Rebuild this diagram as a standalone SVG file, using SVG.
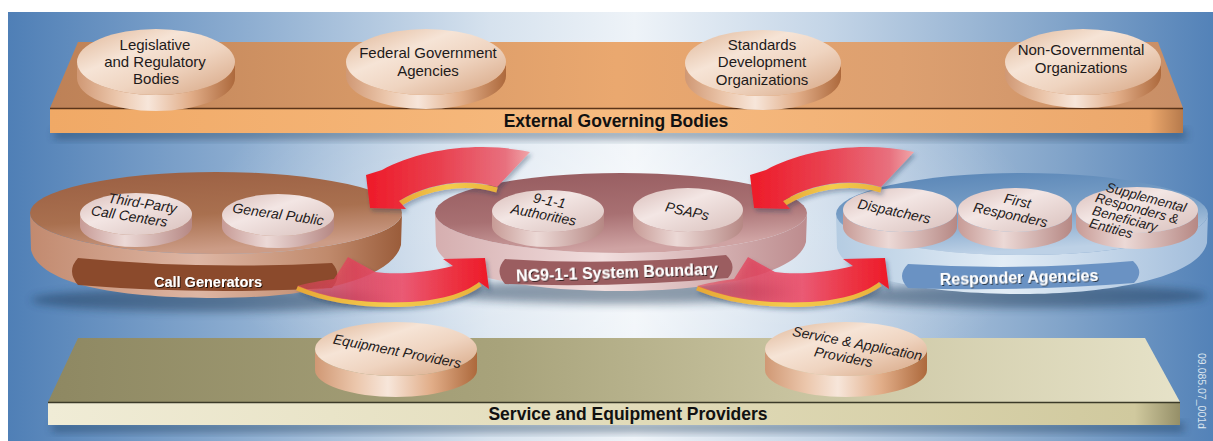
<svg xmlns="http://www.w3.org/2000/svg" width="1213" height="441" viewBox="0 0 1213 441">
  <defs>
    <!-- backdrop -->
    <linearGradient id="bg" x1="0" y1="0" x2="1" y2="0">
      <stop offset="0" stop-color="#4f7fb6"/>
      <stop offset="0.2" stop-color="#8eaed1"/>
      <stop offset="0.4" stop-color="#d6e2ee"/>
      <stop offset="0.52" stop-color="#eef3f8"/>
      <stop offset="0.68" stop-color="#c4d5e7"/>
      <stop offset="0.87" stop-color="#83a5ca"/>
      <stop offset="1" stop-color="#5382b8"/>
    </linearGradient>
    <radialGradient id="glow" cx="0.5" cy="0.5" r="0.5">
      <stop offset="0" stop-color="#ffffff" stop-opacity="0.55"/>
      <stop offset="1" stop-color="#ffffff" stop-opacity="0"/>
    </radialGradient>

    <!-- platforms -->
    <linearGradient id="topFace" x1="0" y1="0" x2="1" y2="0">
      <stop offset="0" stop-color="#bd8157"/>
      <stop offset="0.3" stop-color="#d89a68"/>
      <stop offset="0.5" stop-color="#eaa86f"/>
      <stop offset="0.75" stop-color="#dda070"/>
      <stop offset="1" stop-color="#c88e66"/>
    </linearGradient>
    <linearGradient id="topFront" x1="0" y1="0" x2="1" y2="0">
      <stop offset="0" stop-color="#f0a966"/>
      <stop offset="0.5" stop-color="#f7bb80"/>
      <stop offset="0.97" stop-color="#eca86c"/>
      <stop offset="1" stop-color="#b67a4c"/>
    </linearGradient>
    <linearGradient id="botFace" x1="0" y1="0" x2="1" y2="0">
      <stop offset="0" stop-color="#8e8862"/>
      <stop offset="0.4" stop-color="#a8a37b"/>
      <stop offset="0.7" stop-color="#cdc8a5"/>
      <stop offset="1" stop-color="#e6e2c8"/>
    </linearGradient>
    <linearGradient id="botFront" x1="0" y1="0" x2="1" y2="0">
      <stop offset="0" stop-color="#f0ecd6"/>
      <stop offset="0.5" stop-color="#e2dcba"/>
      <stop offset="0.96" stop-color="#d0c99e"/>
      <stop offset="1" stop-color="#958f68"/>
    </linearGradient>

    <!-- peach cylinders -->
    <linearGradient id="peachTop" x1="0" y1="0" x2="1" y2="1">
      <stop offset="0" stop-color="#dfb596"/>
      <stop offset="0.35" stop-color="#f6e4d6"/>
      <stop offset="0.6" stop-color="#efd4c0"/>
      <stop offset="1" stop-color="#d6a481"/>
    </linearGradient>
    <linearGradient id="peachSide" x1="0" y1="0" x2="1" y2="0">
      <stop offset="0" stop-color="#d09874"/>
      <stop offset="0.25" stop-color="#ebc6ab"/>
      <stop offset="0.45" stop-color="#f7e6da"/>
      <stop offset="0.72" stop-color="#e1ad88"/>
      <stop offset="1" stop-color="#ad693c"/>
    </linearGradient>
    <!-- pink cylinders -->
    <linearGradient id="pinkTop" x1="0" y1="0" x2="1" y2="1">
      <stop offset="0" stop-color="#d9bdb9"/>
      <stop offset="0.4" stop-color="#f3e6e4"/>
      <stop offset="1" stop-color="#d9c0bc"/>
    </linearGradient>
    <linearGradient id="pinkSide" x1="0" y1="0" x2="1" y2="0">
      <stop offset="0" stop-color="#c79b96"/>
      <stop offset="0.4" stop-color="#ecd9d6"/>
      <stop offset="1" stop-color="#b68884"/>
    </linearGradient>

    <!-- oval platforms -->
    <linearGradient id="brownTop" x1="0" y1="0" x2="0.3" y2="1">
      <stop offset="0" stop-color="#9a5e42"/>
      <stop offset="0.6" stop-color="#a9704f"/>
      <stop offset="1" stop-color="#cc9c86"/>
    </linearGradient>
    <linearGradient id="brownSide" x1="0" y1="0" x2="1" y2="0">
      <stop offset="0" stop-color="#c28a6f"/>
      <stop offset="0.45" stop-color="#deb6a4"/>
      <stop offset="0.8" stop-color="#c08a6c"/>
      <stop offset="1" stop-color="#9a5c3a"/>
    </linearGradient>
    <linearGradient id="mauveTop" x1="0" y1="0" x2="0.3" y2="1">
      <stop offset="0" stop-color="#955a5e"/>
      <stop offset="0.6" stop-color="#a87072"/>
      <stop offset="1" stop-color="#cfa3a3"/>
    </linearGradient>
    <linearGradient id="mauveSide" x1="0" y1="0" x2="1" y2="0">
      <stop offset="0" stop-color="#d5aeaf"/>
      <stop offset="0.45" stop-color="#f1dede"/>
      <stop offset="1" stop-color="#bd8c8e"/>
    </linearGradient>
    <linearGradient id="blueTop" x1="0" y1="0" x2="0.3" y2="1">
      <stop offset="0" stop-color="#5683b5"/>
      <stop offset="0.6" stop-color="#7ea3c9"/>
      <stop offset="1" stop-color="#bdd1e6"/>
    </linearGradient>
    <linearGradient id="blueSide" x1="0" y1="0" x2="1" y2="0">
      <stop offset="0" stop-color="#b5cce2"/>
      <stop offset="0.45" stop-color="#e3edf6"/>
      <stop offset="1" stop-color="#a2bddb"/>
    </linearGradient>

    <!-- arrows -->
    <linearGradient id="arrowUp" x1="0" y1="0" x2="1" y2="0">
      <stop offset="0" stop-color="#ee1a28"/>
      <stop offset="0.45" stop-color="#e9404f"/>
      <stop offset="0.85" stop-color="#e8707e"/>
      <stop offset="1" stop-color="#f0a6a9"/>
    </linearGradient>
    <linearGradient id="arrowDown" x1="0" y1="0" x2="1" y2="0">
      <stop offset="0" stop-color="#e0485c" stop-opacity="0.55"/>
      <stop offset="0.3" stop-color="#e4405a" stop-opacity="0.8"/>
      <stop offset="0.55" stop-color="#ea5a74"/>
      <stop offset="0.8" stop-color="#ec3444"/>
      <stop offset="1" stop-color="#ee1a28"/>
    </linearGradient>
    <linearGradient id="rim" x1="0" y1="0" x2="1" y2="0">
      <stop offset="0" stop-color="#e7a836"/>
      <stop offset="0.5" stop-color="#f4cc4e"/>
      <stop offset="1" stop-color="#e9b23c"/>
    </linearGradient>

    <filter id="soft" x="-20%" y="-50%" width="140%" height="200%">
      <feGaussianBlur stdDeviation="4"/>
    </filter>
    <filter id="drop" x="-20%" y="-30%" width="140%" height="160%">
      <feDropShadow dx="2" dy="3" stdDeviation="2" flood-color="#1d3557" flood-opacity="0.35"/>
    </filter>
    <filter id="txtShadow" x="-10%" y="-40%" width="120%" height="180%">
      <feDropShadow dx="1" dy="1" stdDeviation="0.6" flood-color="#000" flood-opacity="0.7"/>
    </filter>
  </defs>

  <style>
    .lbl { font-family: "Liberation Sans", Arial, sans-serif; font-size: 15px; fill: #1e1a1a; text-anchor: middle; }
    .it { font-style: italic; font-size: 14px; }
    .band { font-family: "Liberation Sans", Arial, sans-serif; font-weight: bold; font-size: 17.5px; fill: #111; text-anchor: middle; }
    .bar { font-family: "Liberation Sans", Arial, sans-serif; font-weight: bold; font-size: 16px; fill: #fff; text-anchor: middle; }
    .pSide { fill: url(#peachSide); }
    .pTop { fill: url(#peachTop); }
    .kSide { fill: url(#pinkSide); }
    .kTop { fill: url(#pinkTop); }
    .shade { fill: #17324f; opacity: 0.45; filter: url(#soft); }
  </style>

  <!-- backdrop -->
  <rect width="1213" height="441" fill="#ffffff"/>
  <rect x="8" y="12" width="1205" height="429" fill="url(#bg)"/>
  <ellipse cx="620" cy="230" rx="420" ry="200" fill="url(#glow)"/>

  <!-- upper tier -->
  <g id="external-governing-bodies">
    <rect x="54" y="130" width="1132" height="9" class="shade"/>
    <polygon points="50,108 78,42 1158,42 1183,108" fill="url(#topFace)"/>
    <rect x="50" y="108" width="1133" height="25" fill="url(#topFront)"/>
    <line x1="50" y1="108.5" x2="1183" y2="108.5" stroke="#5b3419" stroke-width="1.6"/>
    <text class="band" x="616" y="127">External Governing Bodies</text>
  </g>

  <g id="legislative-regulatory">
    <path class="pSide" d="M77,62 A79,33 0 0 0 235,62 V78 A79,33 0 0 1 77,78 Z"/>
    <ellipse class="pTop" cx="156" cy="62" rx="79" ry="33"/>
    <text class="lbl" x="155" y="50">Legislative</text>
    <text class="lbl" x="155" y="67">and Regulatory</text>
    <text class="lbl" x="156" y="84">Bodies</text>
  </g>
  <g id="federal-agencies">
    <path class="pSide" d="M346,62 A80,33 0 0 0 506,62 V76 A80,33 0 0 1 346,76 Z"/>
    <ellipse class="pTop" cx="426" cy="62" rx="80" ry="33"/>
    <text class="lbl" x="428" y="58">Federal Government</text>
    <text class="lbl" x="428" y="76">Agencies</text>
  </g>
  <g id="standards-organizations">
    <path class="pSide" d="M685,63 A78,33 0 0 0 841,63 V77 A78,33 0 0 1 685,77 Z"/>
    <ellipse class="pTop" cx="763" cy="63" rx="78" ry="33"/>
    <text class="lbl" x="762" y="50">Standards</text>
    <text class="lbl" x="762" y="67">Development</text>
    <text class="lbl" x="762" y="85">Organizations</text>
  </g>
  <g id="non-governmental">
    <path class="pSide" d="M1005,62 A78,33 0 0 0 1161,62 V75 A78,33 0 0 1 1005,75 Z"/>
    <ellipse class="pTop" cx="1083" cy="62" rx="78" ry="33"/>
    <text class="lbl" x="1081" y="55">Non-Governmental</text>
    <text class="lbl" x="1081" y="73">Organizations</text>
  </g>

  <!-- middle tier: call generators -->
  <g id="call-generators">
    <ellipse cx="216" cy="300" rx="185" ry="12" class="shade"/>
    <path d="M30,213 A186,41 0 0 0 402,213 L401,245 C392,280 310,298 216,298 C120,298 40,285 31,250 Z" fill="url(#brownSide)"/>
    <ellipse cx="216" cy="213" rx="186" ry="41" fill="url(#brownTop)"/>
    <path d="M78,258 Q200,270 332,263 Q343,275 332,288 Q200,295 78,285 Q66,271 78,258 Z" fill="#8b4a2c"/>
    <text class="bar" x="208" y="287" style="font-size:14.5px" filter="url(#txtShadow)">Call Generators</text>
  </g>
  <g id="third-party-call-centers">
    <path class="kSide" d="M80,214 A56,21 0 0 0 192,214 V226 A56,21 0 0 1 80,226 Z"/>
    <ellipse class="kTop" cx="136" cy="214" rx="56" ry="21"/>
    <g transform="rotate(9 136 212)">
      <text class="lbl it" x="141" y="207">Third-Party</text>
      <text class="lbl it" x="130" y="222">Call Centers</text>
    </g>
  </g>
  <g id="general-public">
    <path class="kSide" d="M222,215 A56,21 0 0 0 334,215 V227 A56,21 0 0 1 222,227 Z"/>
    <ellipse class="kTop" cx="278" cy="215" rx="56" ry="21"/>
    <text class="lbl it" x="278" y="219" transform="rotate(8 278 215)">General Public</text>
  </g>

  <!-- middle tier: system boundary -->
  <g id="ng911-system-boundary">
    <ellipse cx="621" cy="292" rx="185" ry="12" class="shade"/>
    <path d="M435,213 A186,40 0 0 0 807,213 L806,242 C798,274 715,291 621,291 C527,291 444,276 436,246 Z" fill="url(#mauveSide)"/>
    <ellipse cx="621" cy="213" rx="186" ry="40" fill="url(#mauveTop)"/>
    <path d="M505,259 Q615,266 726,255 Q738,266 728,278 Q615,288 505,284 Q494,271 505,259 Z" fill="#9b5d60"/>
    <text class="bar" x="617" y="278" transform="rotate(-2 617 272)" filter="url(#txtShadow)">NG9-1-1 System Boundary</text>
  </g>
  <g id="authorities-911">
    <path class="kSide" d="M492,211 A56,21 0 0 0 604,211 V226 A56,21 0 0 1 492,226 Z"/>
    <ellipse class="kTop" cx="548" cy="211" rx="56" ry="21"/>
    <g transform="rotate(11 546 208)">
      <text class="lbl it" x="548" y="205">9-1-1</text>
      <text class="lbl it" x="545" y="220">Authorities</text>
    </g>
  </g>
  <g id="psaps">
    <path class="kSide" d="M633,210 A55,22 0 0 0 743,210 V225 A55,22 0 0 1 633,225 Z"/>
    <ellipse class="kTop" cx="688" cy="210" rx="55" ry="22"/>
    <text class="lbl it" x="687" y="216" transform="rotate(12 687 212)">PSAPs</text>
  </g>

  <!-- middle tier: responder agencies -->
  <g id="responder-agencies">
    <ellipse cx="1022" cy="296" rx="185" ry="12" class="shade"/>
    <path d="M836,214 A186,41 0 0 0 1208,214 L1207,243 C1199,276 1116,294 1022,294 C928,294 845,279 837,248 Z" fill="url(#blueSide)"/>
    <ellipse cx="1022" cy="214" rx="186" ry="41" fill="url(#blueTop)"/>
    <path d="M908,264 Q1020,271 1133,261 Q1145,272 1134,283 Q1020,292 908,288 Q896,276 908,264 Z" fill="#6a92c3"/>
    <text class="bar" x="1019" y="283" transform="rotate(-1.5 1019 278)" filter="url(#txtShadow)">Responder Agencies</text>
  </g>
  <g id="dispatchers">
    <path class="kSide" d="M843,210 A57,22 0 0 0 957,210 V227 A57,22 0 0 1 843,227 Z"/>
    <ellipse class="kTop" cx="900" cy="210" rx="57" ry="22"/>
    <text class="lbl it" x="894" y="216" transform="rotate(12 894 212)">Dispatchers</text>
  </g>
  <g id="first-responders">
    <path class="kSide" d="M958,210 A57,22 0 0 0 1072,210 V227 A57,22 0 0 1 958,227 Z"/>
    <ellipse class="kTop" cx="1015" cy="210" rx="57" ry="22"/>
    <g transform="rotate(12 1013 208)">
      <text class="lbl it" x="1016" y="205">First</text>
      <text class="lbl it" x="1012" y="220">Responders</text>
    </g>
  </g>
  <g id="supplemental-responders">
    <path class="kSide" d="M1076,210 A61,23 0 0 0 1198,210 V226 A61,23 0 0 1 1076,226 Z"/>
    <ellipse class="kTop" cx="1137" cy="210" rx="61" ry="23"/>
    <g transform="rotate(15 1132 216)">
      <text class="lbl it" x="1141" y="199" style="font-size:13.5px">Supplemental</text>
      <text class="lbl it" x="1135" y="212" style="font-size:13.5px">Responders &amp;</text>
      <text class="lbl it" x="1126" y="225" style="font-size:13.5px">Beneficiary</text>
      <text class="lbl it" x="1115" y="238" style="font-size:13.5px">Entities</text>
    </g>
  </g>

  <!-- flow arrows between the three middle platforms -->
  <g id="connectors">
    <g id="arrow-boundary-to-generators" filter="url(#drop)">
      <path d="M399,204 C425,188 462,180 497,190" fill="none" stroke="url(#rim)" stroke-width="5"/>
      <path d="M530,152 C480,141 420,149 382,170 L366,175 L370,208 L406,209 L399,201 C425,185 462,177 497,187 Z" fill="url(#arrowUp)"/>
    </g>
    <g id="arrow-responders-to-boundary" filter="url(#drop)" transform="translate(384,0)">
      <path d="M399,204 C425,188 462,180 497,190" fill="none" stroke="url(#rim)" stroke-width="5"/>
      <path d="M530,152 C480,141 420,149 382,170 L366,175 L370,208 L406,209 L399,201 C425,185 462,177 497,187 Z" fill="url(#arrowUp)"/>
    </g>
    <g id="arrow-generators-to-boundary" filter="url(#drop)">
      <path d="M297,288 C330,302 370,306 410,304 C445,302 468,293 480,284" fill="none" stroke="url(#rim)" stroke-width="5"/>
      <path d="M297,286 C330,300 370,304 410,302 C445,300 468,291 479,282 L489,289 L485,258 L443,259 L453,266 C425,273 395,275 375,272 L348,257 L334,279 C320,281 307,283 297,286 Z" fill="url(#arrowDown)"/>
    </g>
    <g id="arrow-boundary-to-responders" filter="url(#drop)" transform="translate(400,0)">
      <path d="M297,288 C330,302 370,306 410,304 C445,302 468,293 480,284" fill="none" stroke="url(#rim)" stroke-width="5"/>
      <path d="M297,286 C330,300 370,304 410,302 C445,300 468,291 479,282 L489,289 L485,258 L443,259 L453,266 C425,273 395,275 375,272 L348,257 L334,279 C320,281 307,283 297,286 Z" fill="url(#arrowDown)"/>
    </g>
  </g>

  <!-- lower tier -->
  <g id="service-equipment-providers">
    <rect x="52" y="423" width="1132" height="9" class="shade"/>
    <polygon points="48,402 78,338 1145,338 1180,402" fill="url(#botFace)"/>
    <rect x="48" y="402" width="1132" height="23" fill="url(#botFront)"/>
    <line x1="48" y1="402.5" x2="1180" y2="402.5" stroke="#3b3a28" stroke-width="1.6"/>
    <text class="band" x="628" y="420">Service and Equipment Providers</text>
  </g>
  <g id="equipment-providers">
    <path class="pSide" d="M315,349 A81,27 0 0 0 477,349 V370 A81,27 0 0 1 315,370 Z"/>
    <ellipse class="pTop" cx="396" cy="349" rx="81" ry="27"/>
    <text class="lbl it" x="397" y="356" transform="rotate(11 397 352)">Equipment Providers</text>
  </g>
  <g id="service-application-providers">
    <path class="pSide" d="M765,349 A81,27 0 0 0 927,349 V370 A81,27 0 0 1 765,370 Z"/>
    <ellipse class="pTop" cx="846" cy="349" rx="81" ry="27"/>
    <g transform="rotate(11 850 350)">
      <text class="lbl it" x="856" y="347">Service &amp; Application</text>
      <text class="lbl it" x="845" y="363">Providers</text>
    </g>
  </g>

  <!-- drawing number -->
  <text x="1198" y="391" transform="rotate(90 1198 391)" font-family="'Liberation Sans', Arial, sans-serif" font-size="10.5" fill="#dbe4ee" text-anchor="middle">09.085.07_001d</text>
</svg>
